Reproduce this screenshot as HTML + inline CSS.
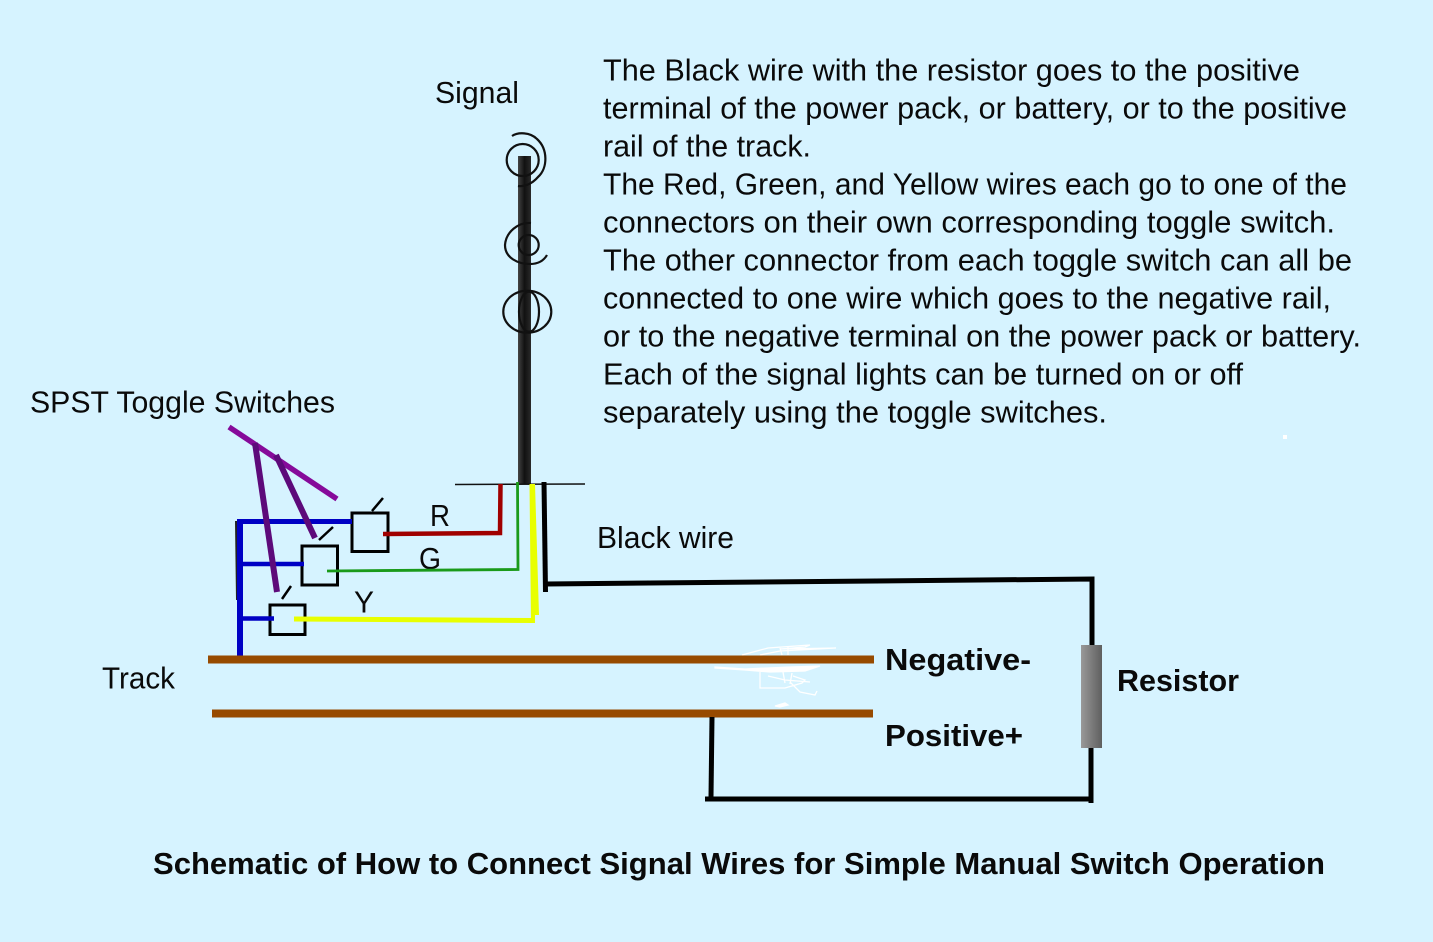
<!DOCTYPE html>
<html>
<head>
<meta charset="utf-8">
<style>
html,body{margin:0;padding:0;background:#d6f3ff;}
svg{display:block;}
text{font-family:"Liberation Sans",sans-serif;font-size:31px;fill:#0a0a0a;}
.b{font-weight:bold;}
</style>
</head>
<body>
<svg width="1433" height="942" viewBox="0 0 1433 942" xmlns="http://www.w3.org/2000/svg">
<defs>
<linearGradient id="pole" x1="0" x2="1" y1="0" y2="0">
<stop offset="0" stop-color="#444"/><stop offset="0.5" stop-color="#111"/><stop offset="1" stop-color="#2a2a2a"/>
</linearGradient>
<linearGradient id="res" x1="0" x2="1" y1="0" y2="0">
<stop offset="0" stop-color="#999"/><stop offset="1" stop-color="#5f5f5f"/>
</linearGradient>
</defs>
<rect width="1433" height="942" fill="#d6f3ff"/>

<!-- paragraph -->
<text x="603" y="80.5" textLength="697" lengthAdjust="spacingAndGlyphs">The Black wire with the resistor goes to the positive</text>
<text x="603" y="118.5" textLength="744" lengthAdjust="spacingAndGlyphs">terminal of the power pack, or battery, or to the positive</text>
<text x="603" y="156.5" textLength="208" lengthAdjust="spacingAndGlyphs">rail of the track.</text>
<text x="603" y="194.5" textLength="744" lengthAdjust="spacingAndGlyphs">The Red, Green, and Yellow wires each go to one of the</text>
<text x="603" y="232.5" textLength="732" lengthAdjust="spacingAndGlyphs">connectors on their own corresponding toggle switch.</text>
<text x="603" y="270.5" textLength="749" lengthAdjust="spacingAndGlyphs">The other connector from each toggle switch can all be</text>
<text x="603" y="308.5" textLength="728" lengthAdjust="spacingAndGlyphs">connected to one wire which goes to the negative rail,</text>
<text x="603" y="346.5" textLength="758" lengthAdjust="spacingAndGlyphs">or to the negative terminal on the power pack or battery.</text>
<text x="603" y="384.5" textLength="640" lengthAdjust="spacingAndGlyphs">Each of the signal lights can be turned on or off</text>
<text x="603" y="422.5" textLength="504" lengthAdjust="spacingAndGlyphs">separately using the toggle switches.</text>

<!-- labels -->
<text x="435" y="103" textLength="84" lengthAdjust="spacingAndGlyphs">Signal</text>
<text x="30" y="412.5" textLength="305" lengthAdjust="spacingAndGlyphs">SPST Toggle Switches</text>
<text x="597" y="548" textLength="137" lengthAdjust="spacingAndGlyphs">Black wire</text>
<text x="430" y="526" textLength="20" lengthAdjust="spacingAndGlyphs">R</text>
<text x="419" y="569" textLength="22" lengthAdjust="spacingAndGlyphs">G</text>
<text x="354" y="612.5" textLength="20" lengthAdjust="spacingAndGlyphs">Y</text>
<text x="102" y="688.5" textLength="73" lengthAdjust="spacingAndGlyphs">Track</text>
<text class="b" x="885" y="670" textLength="146" lengthAdjust="spacingAndGlyphs">Negative-</text>
<text class="b" x="885" y="746" textLength="138" lengthAdjust="spacingAndGlyphs">Positive+</text>
<text class="b" x="1117" y="691" textLength="122" lengthAdjust="spacingAndGlyphs">Resistor</text>
<text class="b" x="153" y="874" textLength="1172" lengthAdjust="spacingAndGlyphs">Schematic of How to Connect Signal Wires for Simple Manual Switch Operation</text>

<!-- signal pole -->
<rect x="518" y="156" width="13" height="328" fill="url(#pole)"/>
<g fill="none" stroke="#111" stroke-width="2.2">
<circle cx="522.7" cy="160" r="16"/>
<path d="M512 136 C518 132 530 132 537 139 C548 149 548 168 538 177 C532 184 524 187 518 186"/>
<circle cx="528.7" cy="245" r="10"/>
<path d="M531 223 C518 222 506 232 505 245 C505 258 518 264 530 264 C537 264 543 262 547 255"/>
<ellipse cx="527.3" cy="311.7" rx="24" ry="21"/>
<ellipse cx="529" cy="311.7" rx="10" ry="20"/>
</g>

<!-- ground line -->
<line x1="455" y1="484.5" x2="585" y2="484" stroke="#111" stroke-width="1.5"/>

<!-- track -->
<rect x="208" y="655.5" width="666" height="8" fill="#974a00"/>
<rect x="212" y="709.5" width="661" height="8" fill="#974a00"/>

<!-- white scribble -->
<g fill="none" stroke="#fff" stroke-width="1.3">
<path d="M742 655 L768 648 L810 645 L805 647 L780 649 L836 648 L780 651 L760 655"/>
<path d="M715 667 L745 669 L790 667 L820 666 L805 671 L770 672 L745 670 L715 668 Z" fill="#fff"/>
<path d="M760 672 L760 688 L785 688 L802 683 L805 680 L793 676"/>
<path d="M768 676 L785 680 L810 682 M790 682 L800 692 L815 695 L817 691"/>
<path d="M775 706 L785 703 L788 705 L780 707 Z" fill="#fff"/>
<path d="M780 648 L782 655 M788 647 L788 655 M783 672 L785 683 M792 673 L790 684"/>
</g>
<rect x="1283" y="435" width="4" height="4" fill="#fff"/>

<!-- black wire -->
<path d="M544 482 L545.5 592" stroke="#000" stroke-width="5" fill="none"/>
<path d="M546 584 L1092 579 L1092 645" stroke="#000" stroke-width="5" fill="none"/>
<path d="M1091 748 L1091 803" stroke="#000" stroke-width="5" fill="none"/>
<path d="M705 799 L1091 799" stroke="#000" stroke-width="5" fill="none"/>
<path d="M712 717 L711 797" stroke="#000" stroke-width="5" fill="none"/>
<rect x="1081" y="645" width="21" height="103" fill="url(#res)"/>

<!-- switches -->
<g fill="none" stroke="#000">
<rect x="352" y="513" width="36" height="38.5" stroke-width="3"/>
<rect x="302" y="546" width="35.5" height="39" stroke-width="3"/>
<rect x="270" y="605" width="35" height="29.5" stroke-width="3"/>
<line x1="372" y1="511" x2="383" y2="498" stroke-width="2.5"/>
<line x1="319" y1="540" x2="333" y2="527" stroke-width="2.5"/>
<line x1="282" y1="599" x2="291" y2="586" stroke-width="2.5"/>
</g>

<!-- blue -->
<path d="M236 521 L237 600" stroke="#222" stroke-width="2" fill="none"/>
<g stroke="#0000c4" fill="none">
<line x1="240" y1="519" x2="240" y2="663" stroke-width="6"/>
<line x1="240" y1="521.5" x2="352" y2="521.5" stroke-width="5"/>
<line x1="240" y1="564" x2="304" y2="564" stroke-width="4.5"/>
<line x1="240" y1="618.5" x2="274" y2="618.5" stroke-width="4.5"/>
</g>
<rect x="208" y="655.5" width="666" height="8" fill="#974a00"/>

<!-- red -->
<path d="M383 534 L500 533 L500.5 484" stroke="#a00000" stroke-width="4.5" fill="none"/>
<!-- green -->
<path d="M327 571 L518 569.5 L517.5 482" stroke="#1a9a1a" stroke-width="2.8" fill="none"/>
<!-- yellow -->
<path d="M294 619 L532.5 620.5" stroke="#e8ff00" stroke-width="5" fill="none"/>
<polygon points="529.5,484 535,484 539,615 535,615 535,623 531,623" fill="#e8ff00"/>

<!-- purple -->
<line x1="229" y1="427" x2="337" y2="499" stroke="#860a9a" stroke-width="5.5"/>
<line x1="255" y1="443" x2="277" y2="592" stroke="#5d0a7a" stroke-width="6"/>
<line x1="276" y1="455" x2="315" y2="538" stroke="#5d0a7a" stroke-width="6"/>
</svg>
</body>
</html>
